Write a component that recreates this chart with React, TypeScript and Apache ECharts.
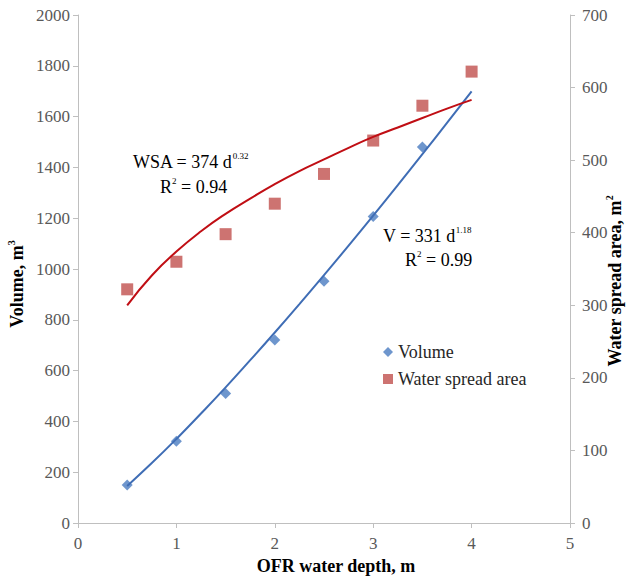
import React, { useEffect, useRef } from "react";
import * as echarts from "echarts";

const depths = [0.5, 1, 1.5, 2, 2.5, 3, 3.5];
const volumeValues = [150, 322, 510, 720, 952, 1207, 1480];
const wsaDepths = [0.5, 1, 1.5, 2, 2.5, 3, 3.5, 4];
const wsaValues = [322, 360, 398, 440, 481, 527, 575, 622];

const fitDepths = [0.5, 0.75, 1, 1.25, 1.5, 1.75, 2, 2.25, 2.5, 2.75, 3, 3.25, 3.5, 3.75, 4];
const volumeFit = [146, 236, 331, 431, 534, 641, 750, 862, 976, 1092, 1210, 1330, 1452, 1575, 1699];
const wsaFit = [300, 341, 374, 402, 426, 447, 467, 485, 501, 517, 532, 545, 558, 571, 583];

const xTicks = { min: 0, max: 5, interval: 1 };
const yLeftTicks = { min: 0, max: 2000, interval: 200 };
const yRightTicks = { min: 0, max: 700, interval: 100 };

const FONT = "Liberation Serif";
const BLUE = "#4A7CC0";
const RED = "#C0504D";
const LINE_BLUE = "#3F6DB5";
const LINE_RED = "#C00E14";

export default function App() {
  const ref = useRef<HTMLDivElement>(null);
  useEffect(() => {
    if (!ref.current) return;
    const chart = echarts.init(ref.current, undefined, { renderer: "svg" });
    const axisLine = { show: true, lineStyle: { color: "#BFBFBF", width: 1 } };
    const axisTick = { show: true, inside: false, length: 5, lineStyle: { color: "#BFBFBF" } };
    const labelStyle = {
      color: "#595959",
      fontFamily: FONT,
      fontSize: 17,
      formatter: (v: number) => String(v),
    };
    const rich = {
      n: { fontFamily: FONT, fontSize: 18, color: "#404040", lineHeight: 22 },
      s: { fontFamily: FONT, fontSize: 9, color: "#404040", verticalAlign: "top" as const, lineHeight: 22 },
      b: { fontFamily: FONT, fontSize: 18, fontWeight: "bold" as const, color: "#262626", lineHeight: 22 },
      bs: { fontFamily: FONT, fontSize: 10, fontWeight: "bold" as const, color: "#262626", verticalAlign: "top" as const, lineHeight: 22 },
    };
    chart.setOption({
      animation: false,
      textStyle: { fontFamily: FONT },
      grid: { left: 78, right: 58, top: 15, bottom: 54, containLabel: false },
      xAxis: {
        type: "value",
        ...xTicks,
        axisLine,
        axisTick,
        splitLine: { show: false },
        axisLabel: { ...labelStyle, margin: 12 },
      },
      yAxis: [
        {
          type: "value",
          ...yLeftTicks,
          position: "left",
          axisLine,
          axisTick,
          splitLine: { show: false },
          axisLabel: { ...labelStyle, margin: 8 },
        },
        {
          type: "value",
          ...yRightTicks,
          position: "right",
          axisLine,
          axisTick,
          splitLine: { show: false },
          axisLabel: { ...labelStyle, margin: 12 },
        },
      ],
      legend: {
        orient: "vertical",
        left: 378,
        top: 338,
        itemGap: 9,
        itemWidth: 10,
        itemHeight: 10,
        textStyle: { fontFamily: FONT, fontSize: 18, color: "#262626" },
        data: [
          { name: "Volume", icon: "diamond" },
          { name: "Water spread area", icon: "rect" },
        ],
      },
      series: [
        {
          name: "Volume",
          type: "scatter",
          yAxisIndex: 0,
          symbol: "diamond",
          symbolSize: 11,
          itemStyle: { color: BLUE },
          data: depths.map((d, i) => [d, volumeValues[i]]),
          z: 2,
        },
        {
          name: "Water spread area",
          type: "scatter",
          yAxisIndex: 1,
          symbol: "rect",
          symbolSize: 12,
          itemStyle: { color: RED },
          data: wsaDepths.map((d, i) => [d, wsaValues[i]]),
          z: 2,
        },
        {
          name: "Volume fit",
          type: "line",
          yAxisIndex: 0,
          smooth: true,
          showSymbol: false,
          lineStyle: { color: LINE_BLUE, width: 2 },
          data: fitDepths.map((d, i) => [d, volumeFit[i]]),
          z: 3,
        },
        {
          name: "WSA fit",
          type: "line",
          yAxisIndex: 1,
          smooth: true,
          showSymbol: false,
          lineStyle: { color: LINE_RED, width: 2 },
          data: fitDepths.map((d, i) => [d, wsaFit[i]]),
          z: 3,
        },
      ],
      graphic: [
        { type: "text", x: 133, y: 151, style: { text: "{n|WSA = 374 d}{s|0.32}", rich } },
        { type: "text", x: 160, y: 176, style: { text: "{n|R}{s|2}{n| = 0.94}", rich } },
        { type: "text", x: 383, y: 225, style: { text: "{n|V = 331 d}{s|1.18}", rich } },
        { type: "text", x: 405, y: 249, style: { text: "{n|R}{s|2}{n| = 0.99}", rich } },
        {
          type: "text",
          x: 17,
          y: 284,
          rotation: Math.PI / 2,
          style: { text: "{b|Volume, m}{bs|3}", rich, align: "center", verticalAlign: "middle" },
        },
        {
          type: "text",
          x: 615,
          y: 281,
          rotation: Math.PI / 2,
          style: { text: "{b|Water spread area, m}{bs|2}", rich, align: "center", verticalAlign: "middle" },
        },
        {
          type: "text",
          x: 336,
          y: 566,
          style: { text: "{b|OFR water depth, m}", rich, align: "center", verticalAlign: "middle" },
        },
      ],
    });
    return () => chart.dispose();
  }, []);
  return <div ref={ref} style={{ width: 628, height: 577, position: "absolute", left: 0, top: 0 }} />;
}
